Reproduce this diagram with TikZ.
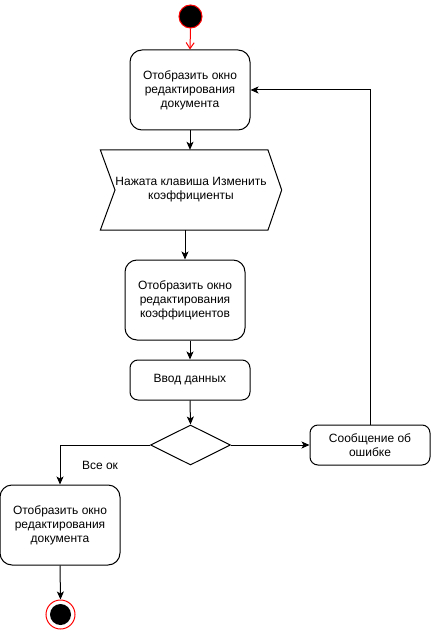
\documentclass[tikz,border=0pt]{standalone}
\usepackage{fontspec}
\setmainfont{Liberation Sans}
\usetikzlibrary{arrows.meta,shapes.geometric}
\tikzset{
  every node/.style={font=\fontsize{12pt}{14pt}\selectfont, align=center, inner sep=0pt},
  actbox/.style={draw, line width=1pt, rounded corners=12pt, minimum width=120pt, minimum height=80pt},
  smallbox/.style={draw, line width=1pt, rounded corners=8pt, minimum width=120pt, minimum height=40pt},
  arr/.style={line width=1pt, -{Stealth[length=8pt,width=7pt,inset=2pt]}},
  redarr/.style={line width=1pt, draw=red, -{Straight Barb[length=6pt,width=8pt]}},
  decis/.style={draw, line width=1pt, diamond, minimum width=80pt, minimum height=40pt, aspect=2},
}
\begin{document}
\begin{tikzpicture}[x=1pt,y=-1pt]
\useasboundingbox (0,0) rectangle (431,631);
\fill[white] (0,0) rectangle (431,631);
% start
\node[circle, draw=red, fill=black, line width=1pt, minimum size=23pt] (start) at (190.5,16.5) {};
% box 1
\node[actbox] (b1) at (190,90) {Отобразить окно\\редактирования\\документа};
% signal
\node[minimum width=181pt, minimum height=80pt] (sig) at (191,190) {};
\draw[line width=1pt] (sig.north west) -- (268,150) -- (sig.east) -- (268,230) -- (sig.south west) -- (115,190) -- cycle;
\node at (191,190) {Нажата клавиша Изменить\\коэффициенты};
% box 2
\node[actbox] (b2) at (185,300) {Отобразить окно\\редактирования\\коэффициентов};
% box 3
\node[smallbox] (b3) at (190,380) {Ввод данных};
% decision
\node[decis] (dec) at (190.5,445) {};
% error
\node[smallbox] (err) at (370,445) {Сообщение об\\ошибке};
% box 4
\node[actbox] (b4) at (60,525) {Отобразить окно\\редактирования\\документа};
% end
\node[circle, draw=red, fill=white, line width=1pt, minimum size=29pt] (end) at (60.5,614.5) {};
\node[circle, fill=black, minimum size=21pt] (endin) at (end.center) {};
% label
\node (ok) at (100,465) {Все ок};
% connectors
\draw[redarr] (start.south) -- (b1.north);
\draw[arr] (b1.south) -- (b1.south |- sig.north);
\draw[arr] (b2.north |- sig.south) -- (b2.north);
\draw[arr] (b3.north |- b2.south) -- (b3.north);
\draw[arr] (b3.south) -- (dec.north);
\draw[arr] (dec.east) -- (err.west);
\draw[arr] (err.north) |- (b1.east);
\draw[arr] (dec.west) -| (b4.north);
\draw[arr] (b4.south) -- (end.north);
\end{tikzpicture}
\end{document}
